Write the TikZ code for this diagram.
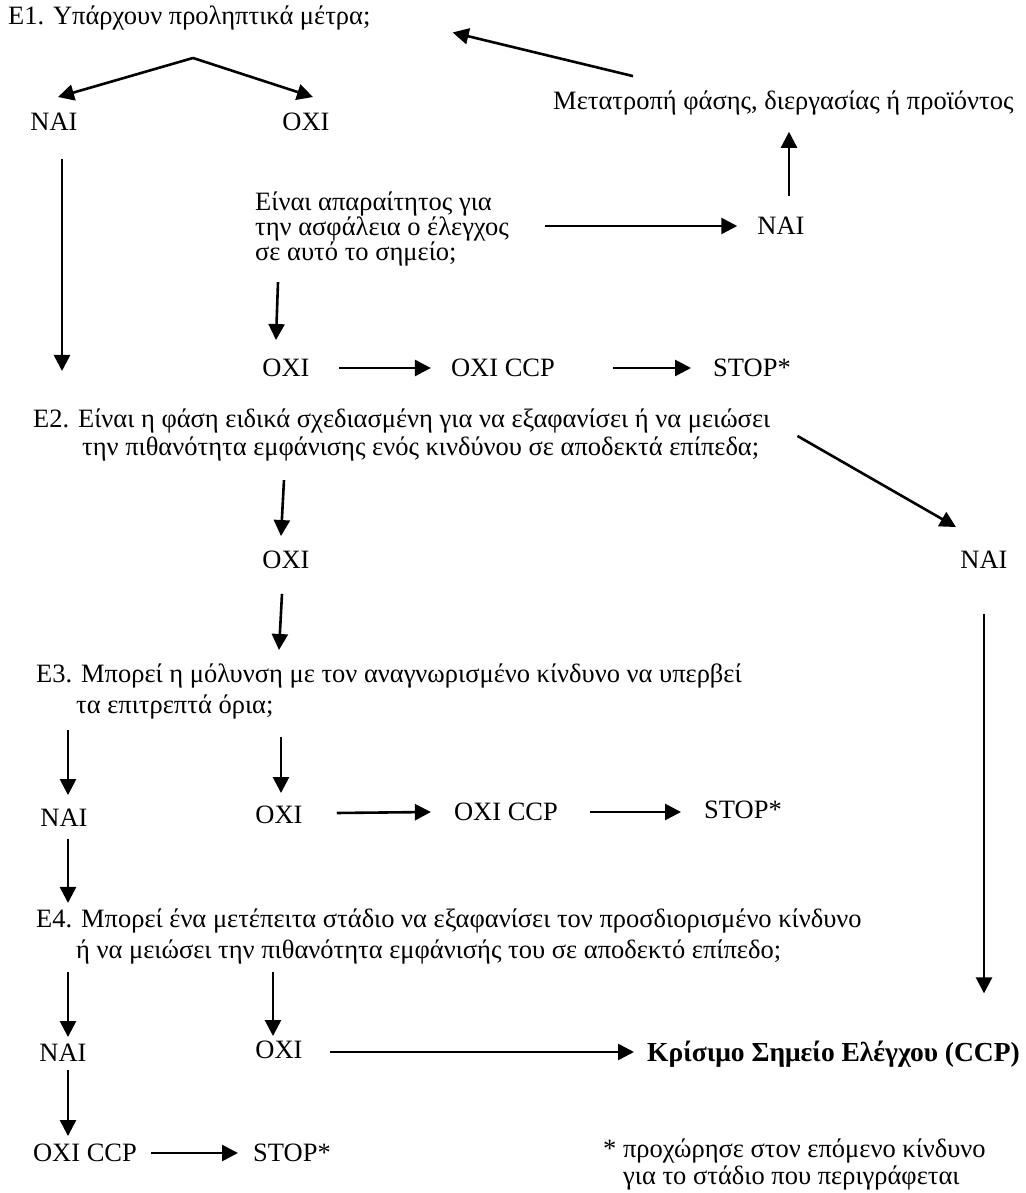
\documentclass[tikz,border=0pt]{standalone}
\usepackage{fontspec}
\setmainfont{Liberation Serif}
\usetikzlibrary{arrows.meta,calc}
\newcommand{\topln}{\rule{0pt}{20pt}}

\begin{document}
\begin{tikzpicture}[x=1pt,y=1pt,
  every node/.style={inner sep=0pt, font=\fontsize{26.5}{26}\selectfont},
  lbl/.style={text height=17.5pt, text depth=0pt},
  blk/.style={anchor=north west, align=left},
  arr/.style={-{Triangle[length=16pt,width=16pt]}, line width=2.6pt}]
\useasboundingbox (0,0) rectangle (1025,1193);
% Ε1
\node[anchor=base west] (e1) at (8,1168) {Ε1. Υπάρχουν προληπτικά μέτρα;};
\node[lbl] (nai1) at (54,1071) {ΝΑΙ};
\node[lbl] (oxi1) at (306,1071) {ΟΧΙ};
\coordinate (fork) at (193,1135);
\draw[arr] (fork) -- ($(nai1.north)+(4,16)$);
\draw[arr] (fork) -- ($(oxi1.north)+(7,16)$);
% ερώτηση ασφάλειας
\node[blk, font=\fontsize{26.5}{25}\selectfont] (safety) at (255,1003)
  {\topln Είναι απαραίτητος για\\την ασφάλεια ο έλεγχος\\σε αυτό το σημείο;};
\node[lbl] (naiR) at (781,967) {ΝΑΙ};
\node[anchor=base west] (change) at (553,1083) {Μετατροπή φάσης, διεργασίας ή προϊόντος};
\draw[arr] ($(safety.east |- naiR.west)+(36,0)$) -- ($(naiR.west)+(-20,0)$);
\draw[arr] ($(naiR.north)+(8,21)$) -- ($(naiR.north |- change.south)+(8,-16)$);
\draw[arr] ($(change.north west)+(80,15)$) -- ($(e1.east)+(82,-14)$);
% ΟΧΙ -> ΟΧΙ CCP -> STOP
\node[lbl] (oxi2) at (286,825) {ΟΧΙ};
\node[lbl] (ccp1) at (503,825) {ΟΧΙ CCP};
\node[lbl] (stop1) at (752,825) {STOP*};
\draw[arr] ($(safety.south west)+(23,-16)$) -- ($(oxi2.north)+(-10,19)$);
\draw[arr] ($(oxi2.east)+(29,0)$) -- ($(ccp1.west)+(-20,0)$);
\draw[arr] ($(ccp1.east)+(58,0)$) -- ($(stop1.west)+(-22,0)$);
% Ε2
\node[blk, font=\fontsize{26.5}{28}\selectfont] (e2) at (33,786)
  {\topln Ε2. Είναι η φάση ειδικά σχεδιασμένη για να εξαφανίσει ή να μειώσει\\
   \hspace*{49pt}την πιθανότητα εμφάνισης ενός κινδύνου σε αποδεκτά επίπεδα;};
\draw[arr] ($(nai1.south)+(8,-28)$) -- ($(e2.north west)+(29,36)$);
\node[lbl] (oxi3) at (286,633) {ΟΧΙ};
\node[lbl] (nai2) at (984,633) {ΝΑΙ};
\draw[arr] ($(e2.south west)+(251,-19)$) -- ($(oxi3.north)+(-5,15)$);
\draw[arr] ($(e2.north east)+(27,-29)$) -- ($(nai2.north)+(-28,24)$);
% Ε3
\node[blk, font=\fontsize{26.5}{31}\selectfont] (e3) at (36,531)
  {\topln Ε3. Μπορεί η μόλυνση με τον αναγνωρισμένο κίνδυνο να υπερβεί\\
   \hspace*{40pt}τα επιτρεπτά όρια;};
\draw[arr] ($(oxi3.south)+(-4,-25)$) -- ($(e3.north west)+(243,12)$);
\node[lbl] (nai3) at (64,375) {ΝΑΙ};
\node[lbl] (oxi4) at (279,378) {ΟΧΙ};
\node[lbl] (ccp2) at (506,381) {ΟΧΙ CCP};
\node[lbl] (stop2) at (743,383) {STOP*};
\draw[arr] ($(e3.south west)+(32,-11)$) -- ($(nai3.north)+(4,14)$);
\draw[arr] ($(e3.south west)+(245,-18)$) -- ($(oxi4.north)+(2,13)$);
\draw[arr] ($(oxi4.east)+(34,2)$) -- ($(ccp2.west)+(-23,0)$);
\draw[arr] ($(ccp2.east)+(32,0)$) -- ($(stop2.west)+(-23,-2)$);
% Ε4
\node[blk, font=\fontsize{26.5}{31}\selectfont] (e4) at (36,286)
  {\topln Ε4. Μπορεί ένα μετέπειτα στάδιο να εξαφανίσει τον προσδιορισμένο κίνδυνο\\
   \hspace*{40pt}ή να μειώσει την πιθανότητα εμφάνισής του σε αποδεκτό επίπεδο;};
\draw[arr] ($(nai3.south)+(4,-12)$) -- ($(e4.north west)+(32,4)$);
\node[lbl] (nai4) at (63,140) {ΝΑΙ};
\node[lbl] (oxi5) at (279,143) {ΟΧΙ};
\node[anchor=base west, font=\fontsize{27.5}{26}\selectfont\bfseries] (ccp) at (647,131)
  {Κρίσιμο Σημείο Ελέγχου (CCP)};
\draw[arr] ($(e4.south west)+(32,-8)$) -- ($(nai4.north)+(5,7)$);
\draw[arr] ($(e4.south west)+(237,-8)$) -- ($(oxi5.north)+(-6,5)$);
\draw[arr] ($(oxi5.east)+(27,-2)$) -- ($(ccp.west |- oxi5.east)+(-13,-2)$);
\draw[arr] ($(nai2.south)+(0,-45)$) -- ($(nai2.south |- ccp.north)+(0,48)$);
% τελικό ΟΧΙ CCP
\node[lbl] (ccp3) at (85,40) {ΟΧΙ CCP};
\node[lbl] (stop3) at (292,40) {STOP*};
\draw[arr] ($(nai4.south)+(5,-8)$) -- ($(ccp3.north)+(-17,8)$);
\draw[arr] ($(ccp3.east)+(14,0)$) -- ($(stop3.west)+(-15,0)$);
% σημείωση
\node[blk, font=\fontsize{26.5}{27}\selectfont] (note) at (603,56)
  {\topln * προχώρησε στον επόμενο κίνδυνο\\
   \hspace*{20pt}για το στάδιο που περιγράφεται};
\end{tikzpicture}
\end{document}
